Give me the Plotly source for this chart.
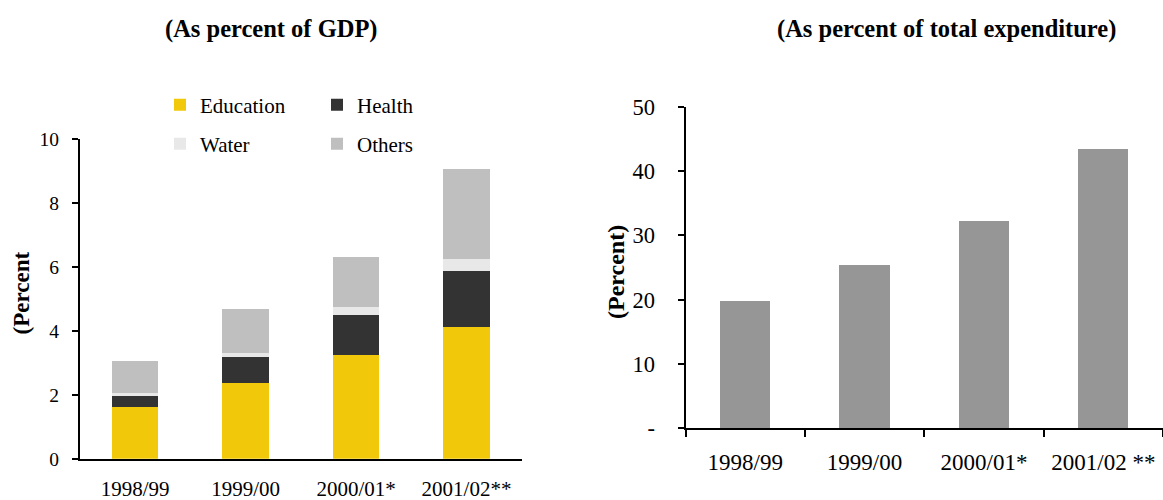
import plotly.graph_objects as go

W, H = 1163, 500

# ---- data ----
years_left = ["1998/99", "1999/00", "2000/01*", "2001/02**"]
education = [1.61, 2.36, 3.24, 4.11]
health = [0.37, 0.81, 1.25, 1.76]
water = [0.06, 0.13, 0.25, 0.37]
others = [1.01, 1.38, 1.56, 2.82]

years_right = ["1998/99", "1999/00", "2000/01*", "2001/02 **"]
share_total = [19.8, 25.4, 32.2, 43.4]

left_yticks = [0, 2, 4, 6, 8, 10]
right_yticks = [0, 10, 20, 30, 40, 50]
right_yticktext = ["-", "10", "20", "30", "40", "50"]

FONT = "Liberation Serif"

def px(x):
    return x / W

def py(y):
    return 1 - y / H

fig = go.Figure()

colors = {"Education": "#F2C80A", "Health": "#333333", "Water": "#E8E8E8", "Others": "#BFBFBF"}
series = [("Education", education, "legend"), ("Health", health, "legend"),
          ("Water", water, "legend2"), ("Others", others, "legend2")]
for name, vals, lg in series:
    fig.add_trace(go.Bar(x=years_left, y=vals, name=name, marker_color=colors[name],
                         marker_line_width=0, width=0.42, xaxis="x", yaxis="y", legend=lg))

fig.add_trace(go.Bar(x=years_right, y=share_total, name="Share", marker_color="#969696",
                     marker_line_width=0, width=0.42, xaxis="x2", yaxis="y2", showlegend=False))

axis_common = dict(showline=True, linecolor="black", linewidth=2, showgrid=False,
                   zeroline=False, automargin=False, fixedrange=True)

fig.update_layout(
    width=W, height=H,
    margin=dict(l=0, r=0, t=0, b=0),
    paper_bgcolor="white", plot_bgcolor="white",
    barmode="stack",
    font=dict(family=FONT, color="black"),
    xaxis=dict(domain=[px(80), px(521.7)], range=[-0.5, 3.5], type="category",
               ticks="", tickfont=dict(size=21), ticklabelstandoff=10, anchor="y", **axis_common),
    yaxis=dict(domain=[py(458.7), py(139)], range=[0, 10], tickvals=left_yticks,
               ticks="outside", ticklen=6, tickwidth=2, tickcolor="black",
               tickfont=dict(size=19.5), ticklabelstandoff=9, anchor="x", **axis_common),
    xaxis2=dict(domain=[px(685.5), 1.0], range=[-0.5, 3.5], type="category",
                ticks="outside", tickson="boundaries", ticklen=7, tickwidth=2, tickcolor="black",
                tickfont=dict(size=23), ticklabelstandoff=12, anchor="y2", **axis_common),
    yaxis2=dict(domain=[py(428.3), py(106.7)], range=[0, 50], tickvals=right_yticks,
                ticktext=right_yticktext,
                ticks="outside", ticklen=6, tickwidth=2, tickcolor="black",
                tickfont=dict(size=22.5), ticklabelstandoff=18, anchor="x2", **axis_common),
    legend=dict(orientation="h", x=px(160), y=py(105), xanchor="left", yanchor="middle",
                entrywidth=112, entrywidthmode="pixels", font=dict(size=21),
                bgcolor="rgba(0,0,0,0)", traceorder="normal"),
    legend2=dict(orientation="h", x=px(160), y=py(144), xanchor="left", yanchor="middle",
                 entrywidth=112, entrywidthmode="pixels", font=dict(size=21),
                 bgcolor="rgba(0,0,0,0)", traceorder="normal"),
    annotations=[
        dict(text="<b>(As percent of GDP)</b>", x=px(271), y=py(29), xref="paper", yref="paper",
             xanchor="center", yanchor="middle", showarrow=False, font=dict(size=24.5)),
        dict(text="<b>(As percent of total expenditure)</b>", x=px(946), y=py(29), xref="paper",
             yref="paper", xanchor="center", yanchor="middle", showarrow=False, font=dict(size=24.5)),
        dict(text="<b>(Percent</b>", x=px(20.5), y=py(293), xref="paper", yref="paper",
             xanchor="center", yanchor="middle", textangle=-90, showarrow=False, font=dict(size=23)),
        dict(text="<b>(Percent)</b>", x=px(615.5), y=py(272.5), xref="paper", yref="paper",
             xanchor="center", yanchor="middle", textangle=-90, showarrow=False, font=dict(size=24)),
    ],
)

fig.write_html("out.html", config={"displayModeBar": False},
               post_script="document.body.style.margin='0';document.body.style.padding='0';")
